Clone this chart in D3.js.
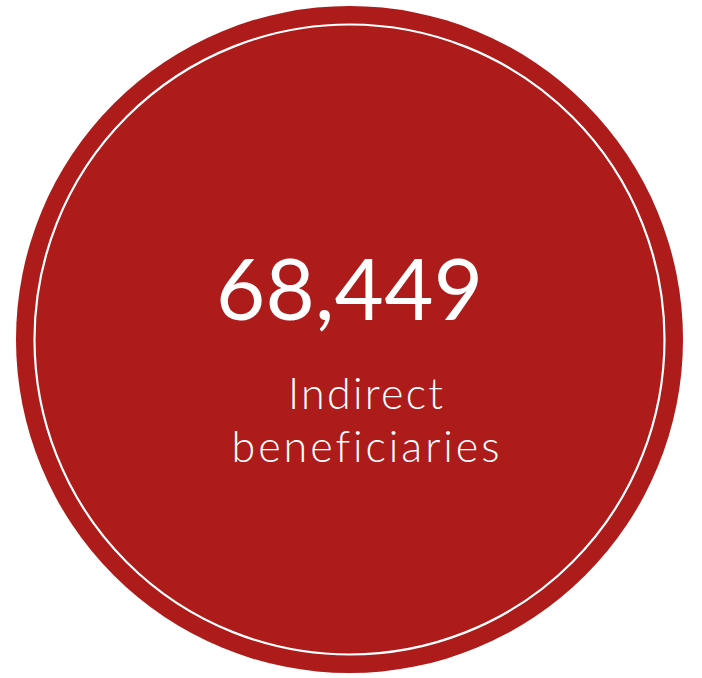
<!DOCTYPE html>
<html>
<head>
<meta charset="utf-8">
<script src="https://cdn.jsdelivr.net/npm/d3@7"></script>
<style>
  body { margin: 0; background: #fff; }
  svg { display: block; }
</style>
</head>
<body>
<div id="chart"></div>
<script>
var width = 702;
var height = 678;

var values = [68449];
var labels = ["Indirect", "beneficiaries"];

var red = "#ad1b1a";
var cx = 349.5, cy = 339.5;

var svg = d3.select("#chart")
    .append("svg")
    .attr("width", width)
    .attr("height", height);

// outer disc and the thin white ring inside it
svg.append("circle")
    .attr("cx", cx)
    .attr("cy", cy)
    .attr("r", 333.5)
    .attr("fill", red);

svg.append("circle")
    .attr("cx", cx)
    .attr("cy", cy)
    .attr("r", 315)
    .attr("fill", "none")
    .attr("stroke", "#fff")
    .attr("stroke-width", 2.2);

// stretch a line of text to a given width with letter spacing
function fit(sel, target) {
    sel.each(function() {
        var n = this.textContent.length;
        var len = this.getComputedTextLength();
        var ls = (target - len) / (n - 1);
        d3.select(this).style("letter-spacing", ls + "px")
            .attr("dx", ls / 2);
    });
}

svg.selectAll("text.value")
    .data(values)
    .enter()
    .append("text")
    .attr("class", "value")
    .attr("x", cx)
    .attr("y", 320)
    .attr("text-anchor", "middle")
    .attr("fill", "#fff")
    .style("font-family", "Lato, 'Open Sans', sans-serif")
    .style("font-weight", 400)
    .style("font-size", "85px")
    .text(d3.format(","))
    .call(fit, 267);

svg.selectAll("text.label")
    .data(labels)
    .enter()
    .append("text")
    .attr("class", "label")
    .attr("x", 365.5)
    .attr("y", function(d, i) { return 409 + i * 53; })
    .attr("text-anchor", "middle")
    .attr("fill", "#fff")
    .style("font-family", "Lato, 'Open Sans', sans-serif")
    .style("font-weight", 300)
    .style("font-size", "43px")
    .text(function(d) { return d; })
    .each(function(d, i) { d3.select(this).call(fit, i ? 267 : 155); });
</script>
</body>
</html>
